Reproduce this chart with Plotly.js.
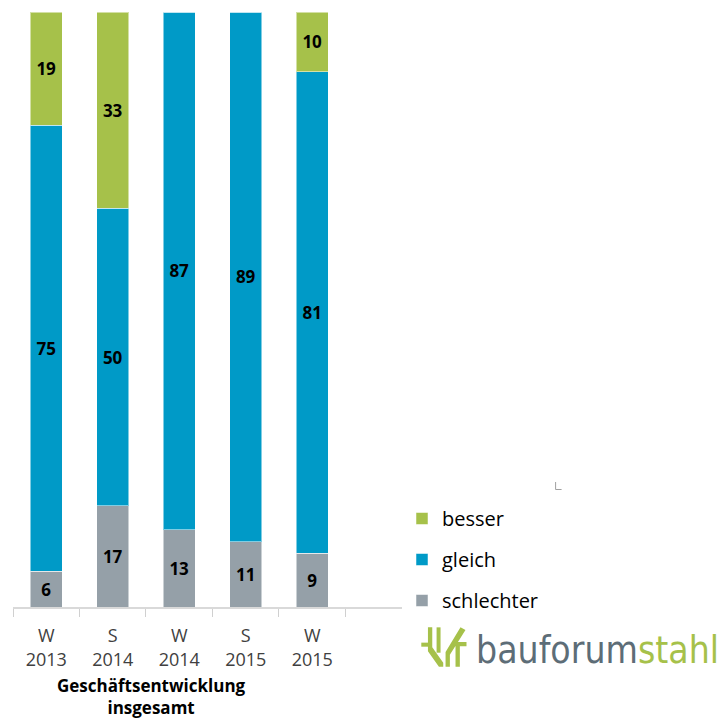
<!DOCTYPE html>
<html>
<head>
<meta charset="utf-8">
<script src="https://cdn.plot.ly/plotly-3.0.1.min.js"></script>
<style>html,body{margin:0;padding:0;background:#fff;}#chart{width:726px;height:720px;}</style>
</head>
<body>
<div id="chart"></div>
<script>
// ---- data ----
const categories = ["W<br>2013", "S<br>2014", "W<br>2014", "S<br>2015", "W<br>2015"];
const schlechter = [6, 17, 13, 11, 9];
const gleich = [75, 50, 87, 89, 81];
const besser = [19, 33, 0, 0, 10];
const axisTitle = "Geschäftsentwicklung<br>insgesamt";
const logoParts = ["bauforum", "stahl"];

// ---- styles ----
const colors = {besser: "#a6c14a", gleich: "#009ac7", schlechter: "#95a0a8"};
const legendRanks = {besser: 1, gleich: 2, schlechter: 3};
const FONT = "Open Sans, Lato, DejaVu Sans, sans-serif";

// plot area in pixels (for decoration helpers)
const PL = 13, PR = 403, PT = 12, PB = 607;
const px2x = p => (p - PL) / (PR - PL);
const px2y = p => (PB - p) / (PB - PT);

function mkTrace(name, vals) {
  return {
    type: "bar",
    name: name,
    x: categories,
    y: vals,
    legendgroup: name,
    legendrank: legendRanks[name],
    marker: {color: colors[name], line: {color: "rgba(255,255,255,0.5)", width: 1}},
    width: 0.48,
    text: vals.map(v => v > 0 ? String(v) : ""),
    texttemplate: "%{text}",
    textposition: "inside",
    insidetextanchor: "middle",
    constraintext: "none",
    textfont: {family: FONT, size: 17, color: "#000", weight: "bold"},
    hoverinfo: "skip"
  };
}

const traces = [
  mkTrace("schlechter", schlechter),
  mkTrace("gleich", gleich),
  mkTrace("besser", besser)
];

// logo icon polygons (zoom coords -> px), decoration only
const icon = [
  [[22,68],[45,68],[45,80],[22,80]],
  [[42,22],[55,22],[55,82],[88,128],[88,140],[75,140],[42,94]],
  [[68,22],[80,22],[80,98],[68,98]],
  [[95,96],[140,22],[155,30],[108,104],[108,140],[95,140]],
  [[118,66],[158,66],[158,79],[138,79],[138,140],[125,140],[125,79],[118,79]]
];
const shapes = icon.map(poly => {
  const pts = poly.map(([zx, zy]) => [px2x(415 + zx / 3), px2y(620 + zy / 3)]);
  return {
    type: "path", xref: "paper", yref: "paper",
    path: "M" + pts.map(p => p[0].toFixed(4) + "," + p[1].toFixed(4)).join("L") + "Z",
    fillcolor: "#a6c14a", line: {width: 0}
  };
});
// small corner mark
shapes.push({
  type: "path", xref: "paper", yref: "paper",
  path: "M" + px2x(557) + "," + px2y(482) + "L" + px2x(557) + "," + px2y(489.5) + "L" + px2x(563) + "," + px2y(489.5),
  line: {color: "#a0a0a0", width: 1}
});

const layout = {
  width: 726, height: 720,
  margin: {l: PL, r: 726 - PR, t: PT, b: 720 - PB},
  paper_bgcolor: "#fff", plot_bgcolor: "#fff",
  barmode: "stack",
  font: {family: FONT, color: "#404040"},
  xaxis: {
    type: "category",
    range: [-0.5, 5.35],
    tickson: "boundaries",
    ticks: "outside", ticklen: 8, tickcolor: "#d0d0d0", tickwidth: 1,
    showline: true, linecolor: "#d9d9d9", linewidth: 1.5,
    showgrid: false, zeroline: false,
    tickfont: {family: FONT, size: 18, color: "#404040"},
    ticklabelstandoff: 12,
    fixedrange: true
  },
  yaxis: {
    range: [0, 100], visible: false, showgrid: false, zeroline: false, fixedrange: true
  },
  showlegend: true,
  legend: {
    xref: "container", yref: "container",
    x: 402 / 726, xanchor: "left",
    y: 1 - 499 / 720, yanchor: "top",
    traceorder: "grouped",
    tracegroupgap: 12,
    font: {family: FONT, size: 20, color: "#000"},
    bgcolor: "rgba(0,0,0,0)", borderwidth: 0
  },
  shapes: shapes,
  annotations: [
    {
      xref: "paper", yref: "paper",
      x: px2x(152), y: px2y(696), xanchor: "center", yanchor: "middle",
      text: "<b>" + axisTitle + "</b>", showarrow: false,
      font: {family: FONT, size: 17, color: "#000"}
    },
    {
      xref: "paper", yref: "paper",
      x: px2x(475), y: px2y(650), xanchor: "left", yanchor: "middle",
      text: "<span style='color:#5d6d77'>" + logoParts[0] + "</span><span style='color:#a6c14a'>" + logoParts[1] + "</span>",
      showarrow: false,
      font: {family: "DejaVu Sans Condensed, Open Sans, sans-serif", size: 37, color: "#5d6d77"}
    }
  ]
};

Plotly.newPlot("chart", traces, layout, {displayModeBar: false, staticPlot: true});
</script>
</body>
</html>
